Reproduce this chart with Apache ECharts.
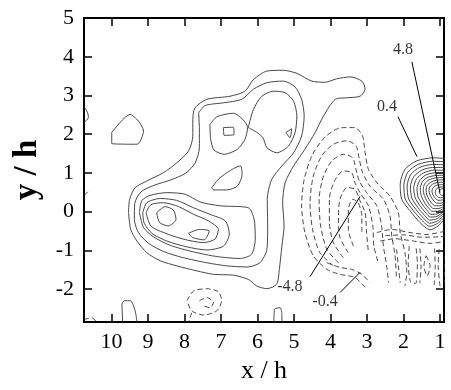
<!DOCTYPE html>
<html>
<head>
<meta charset="utf-8">
<title>contours</title>
<script src="https://cdn.jsdelivr.net/npm/echarts@6/dist/echarts.min.js"></script>
<style>
  html, body { margin: 0; padding: 0; background: #fff; }
  #chart { width: 451px; height: 390px; }
</style>
</head>
<body>
<div id="chart"></div>
<script>
// axis ticks
const xTicks = [1, 2, 3, 4, 5, 6, 7, 8, 9, 10];
const yTicks = [-2, -1, 0, 1, 2, 3, 4, 5];

// positive (solid) contours, [x/h, y/h]
const outer = [[9.53,-0.03],[9.50,0.32],[9.35,0.62],[9.03,0.79],[8.57,1.01],[8.21,1.26],[7.89,1.56],[7.77,1.95],[7.77,2.38],[7.71,2.68],[7.39,2.90],[6.75,2.98],[6.34,3.11],[6.11,3.41],[5.74,3.63],[5.29,3.65],[4.92,3.57],[4.51,3.37],[4.15,3.34],[3.83,3.43],[3.46,3.48],[3.14,3.37],[3.05,3.16],[3.19,2.98],[3.55,2.94],[3.87,2.90],[4.19,2.47],[4.42,2.04],[4.70,1.61],[5.01,1.18],[5.24,0.75],[5.31,0.23],[5.27,-0.37],[5.33,-0.89],[5.40,-1.49],[5.47,-1.87],[5.74,-1.99],[6.02,-1.92],[6.25,-1.75],[6.66,-1.64],[7.20,-1.62],[7.66,-1.53],[8.21,-1.40],[8.66,-1.27],[9.03,-1.06],[9.30,-0.76],[9.47,-0.46],[9.53,-0.03]];
const second = [[7.61,2.55],[7.43,2.74],[6.93,2.81],[6.43,2.90],[6.11,3.16],[5.74,3.33],[5.29,3.37],[4.97,3.22],[4.79,2.90],[4.72,2.47],[4.79,1.95],[5.01,1.52],[5.33,1.18],[5.61,0.83],[5.73,0.32],[5.72,-0.37],[5.74,-0.97],[5.93,-1.32],[6.29,-1.43],[6.84,-1.40],[7.39,-1.32],[8.03,-1.19],[8.57,-1.03],[8.98,-0.82],[9.26,-0.54],[9.37,-0.20],[9.36,0.21],[9.19,0.51],[8.83,0.68],[8.37,0.82],[7.97,0.99],[7.71,1.25],[7.59,1.65],[7.59,2.12],[7.61,2.55]];
const lobeRight = [[6.25,2.17],[6.11,2.64],[5.88,2.98],[5.56,3.11],[5.24,3.07],[5.01,2.85],[4.92,2.47],[4.97,2.04],[5.15,1.69],[5.47,1.52],[5.74,1.65],[5.85,1.91],[6.02,2.05],[6.25,2.17]];
const lobeLeft = [[7.30,2.25],[7.11,2.45],[6.66,2.54],[6.40,2.38],[6.27,2.17],[6.34,1.87],[6.55,1.61],[6.91,1.48],[7.19,1.59],[7.28,1.87],[7.30,2.25]];
const peakSquare = [[6.93,2.17],[6.66,2.18],[6.64,1.99],[6.91,1.97],[6.93,2.17]];
const peakTriangle = [[5.22,2.04],[5.06,2.14],[5.11,1.91],[5.22,2.04]];
const midBlob = [[7.25,0.62],[7.02,0.88],[6.47,1.18],[6.42,0.96],[6.55,0.66],[6.84,0.56],[7.20,0.56],[7.25,0.62]];
const lowC = [[9.23,-0.03],[9.17,0.28],[8.94,0.42],[8.48,0.49],[7.98,0.45],[7.57,0.25],[7.02,0.15],[6.25,0.10],[6.09,-0.20],[6.06,-0.71],[6.16,-1.10],[6.47,-1.21],[7.11,-1.16],[7.75,-1.04],[8.39,-0.87],[8.85,-0.65],[9.12,-0.41],[9.23,-0.03]];
const lowD = [[9.14,-0.03],[9.03,0.23],[8.66,0.34],[8.21,0.29],[7.75,0.10],[7.30,-0.07],[6.88,-0.24],[6.77,-0.58],[6.93,-0.89],[7.39,-0.99],[7.93,-0.91],[8.48,-0.76],[8.89,-0.56],[9.10,-0.30],[9.14,-0.03]];
const lowE = [[9.05,-0.03],[8.92,0.18],[8.57,0.23],[8.16,0.13],[7.75,-0.07],[7.34,-0.24],[7.07,-0.46],[7.16,-0.71],[7.48,-0.80],[8.03,-0.71],[8.57,-0.54],[8.92,-0.37],[9.05,-0.03]];
const lowF = [[8.76,-0.03],[8.53,0.13],[8.30,0.04],[8.23,-0.20],[8.44,-0.37],[8.68,-0.28],[8.76,-0.03]];
const lowG = [[7.89,-0.56],[7.59,-0.46],[7.32,-0.50],[7.46,-0.73],[7.77,-0.67],[7.89,-0.56]];
const farLeft = [[9.99,2.04],[9.49,2.51],[9.26,2.34],[9.12,2.08],[9.30,1.74],[9.99,1.76],[9.99,2.04]];
const edgeLeft = [[10.76,2.73],[10.65,2.55],[10.63,2.43],[10.75,2.30]];
const bumpLeft = [[9.69,-2.86],[9.71,-2.39],[9.64,-2.30],[9.48,-2.30],[9.35,-2.56],[9.30,-2.86]];
const bumpMid = [[5.55,-2.86],[5.53,-2.52],[5.38,-2.48],[5.33,-2.65],[5.33,-2.86]];

// near-wall peak (solid), nested from 0.4 up to 4.8
const p1 = [[0.84,1.37],[1.18,1.39],[1.64,1.31],[1.96,1.09],[2.09,0.71],[2.05,0.32],[1.82,0.02],[1.55,-0.28],[1.27,-0.47],[1.05,-0.37],[0.84,-0.15]];
const p2 = [[0.84,1.29],[1.2,1.3],[1.6,1.22],[1.88,1.02],[1.99,0.68],[1.95,0.32],[1.74,0.04],[1.5,-0.22],[1.28,-0.38],[1.06,-0.3],[0.84,-0.1]];
const p3 = [[0.84,1.21],[1.2,1.22],[1.56,1.14],[1.8,0.96],[1.9,0.66],[1.86,0.33],[1.67,0.07],[1.46,-0.16],[1.28,-0.3],[1.07,-0.24],[0.84,-0.05]];
const p4 = [[0.84,1.14],[1.2,1.14],[1.5,1.07],[1.72,0.9],[1.81,0.64],[1.77,0.35],[1.6,0.1],[1.42,-0.1],[1.28,-0.22],[1.08,-0.18],[0.84,0.0]];
const p5 = [[0.84,1.07],[1.18,1.07],[1.45,1.0],[1.64,0.85],[1.72,0.62],[1.68,0.36],[1.53,0.13],[1.38,-0.04],[1.27,-0.14],[1.08,-0.12],[0.84,0.04]];
const p6 = [[0.84,1.0],[1.16,1.0],[1.4,0.94],[1.56,0.8],[1.63,0.6],[1.6,0.38],[1.47,0.17],[1.34,0.02],[1.25,-0.07],[1.08,-0.06],[0.84,0.08]];
const p7 = [[0.84,0.94],[1.14,0.93],[1.35,0.88],[1.49,0.76],[1.54,0.58],[1.51,0.4],[1.41,0.21],[1.3,0.08],[1.22,0.01],[1.07,0.01],[0.84,0.12]];
const p8 = [[0.84,0.88],[1.12,0.87],[1.3,0.82],[1.42,0.72],[1.46,0.57],[1.43,0.42],[1.35,0.26],[1.26,0.14],[1.18,0.08],[1.05,0.08],[0.84,0.16]];
const p9 = [[0.84,0.82],[1.1,0.81],[1.25,0.76],[1.35,0.68],[1.38,0.56],[1.36,0.43],[1.29,0.3],[1.21,0.2],[1.14,0.15],[1.03,0.15],[0.84,0.2]];
const p10 = [[0.84,0.76],[1.08,0.75],[1.2,0.71],[1.28,0.64],[1.3,0.55],[1.28,0.45],[1.22,0.34],[1.15,0.26],[1.09,0.22],[1.0,0.22],[0.84,0.25]];
const p11 = [[0.84,0.7],[1.05,0.69],[1.14,0.66],[1.2,0.6],[1.22,0.53],[1.2,0.45],[1.15,0.37],[1.09,0.31],[1.03,0.29],[0.95,0.3],[0.84,0.32]];
const p12 = [[0.84,0.64],[1.02,0.63],[1.08,0.6],[1.12,0.55],[1.13,0.5],[1.11,0.44],[1.07,0.39],[1.02,0.36],[0.96,0.36],[0.84,0.38]];
const pCore = [[0.93,0.6],[1.0,0.56],[1.02,0.5],[0.99,0.44],[0.93,0.42],[0.89,0.47],[0.9,0.55],[0.93,0.6]];

// negative (dashed) contours
const n1 = [[3.05,-1.95],[3.33,-1.70],[3.74,-1.62],[4.10,-1.49],[4.47,-1.14],[4.70,-0.54],[4.79,0.15],[4.72,0.83],[4.49,1.48],[4.12,1.95],[3.69,2.17],[3.33,2.17],[3.12,1.95],[3.05,1.52],[2.96,1.09],[2.73,0.75],[2.37,0.40],[2.14,-0.03],[2.09,-0.54],[1.96,-1.06],[1.91,-1.57],[1.96,-1.92]];
const n2 = [[3.92,-1.40],[4.29,-1.06],[4.49,-0.46],[4.56,0.23],[4.47,0.92],[4.24,1.44],[3.92,1.74],[3.55,1.83],[3.30,1.70],[3.21,1.35],[3.12,1.01],[2.92,0.66],[2.55,0.32],[2.37,-0.11],[2.32,-0.63],[2.23,-1.14],[2.19,-1.75]];
const n3 = [[3.78,-1.32],[4.10,-0.97],[4.27,-0.37],[4.31,0.32],[4.19,0.92],[3.96,1.31],[3.65,1.48],[3.39,1.39],[3.30,1.09],[3.21,0.79],[3.01,0.49],[2.73,0.15],[2.60,-0.37],[2.55,-0.89],[2.46,-1.40],[2.41,-1.83]];
const n4 = [[3.65,-1.19],[3.92,-0.80],[4.03,-0.28],[4.03,0.32],[3.89,0.79],[3.65,1.05],[3.42,1.01],[3.33,0.75],[3.19,0.49],[2.96,0.15],[2.84,-0.37],[2.81,-0.89],[2.69,-1.32]];
const n5 = [[3.51,-1.06],[3.74,-0.67],[3.78,-0.15],[3.74,0.32],[3.55,0.62],[3.33,0.58],[3.21,0.32],[3.05,-0.03],[3.01,-0.54],[2.96,-1.06]];
const n6 = [[3.37,-0.89],[3.51,-0.46],[3.51,0.06],[3.39,0.32],[3.24,0.23],[3.14,-0.11],[3.14,-0.54]];
const nLow = [[4.10,-1.32],[3.74,-1.44],[3.42,-1.49],[3.14,-1.62],[2.92,-1.83]];
const r1 = [[2.73,-0.54],[2.32,-0.46],[1.82,-0.54],[1.36,-0.59],[0.84,-0.50]];
const r2 = [[2.64,-0.76],[2.23,-0.70],[1.73,-0.76],[1.27,-0.82],[0.84,-0.76]];
const r3 = [[1.84,-0.89],[1.87,-1.32],[1.80,-1.83],[1.66,-1.85],[1.62,-1.32],[1.66,-0.89]];
const r4 = [[1.02,-0.97],[1.05,-1.40],[1.00,-1.92]];
const r5 = [[0.86,-0.93],[0.88,-1.92]];
const r6 = [[1.38,-1.14],[1.27,-1.40],[1.35,-1.66],[1.44,-1.40],[1.38,-1.14]];
const r7 = [[2.19,-0.97],[2.14,-1.40],[2.09,-1.83]];
const r8 = [[1.55,-0.95],[1.52,-1.40],[1.55,-1.85]];
const r9 = [[1.15,-0.95],[1.13,-1.40],[1.16,-1.90]];
const r10 = [[2.50,-0.62],[2.00,-0.60],[1.50,-0.66],[1.00,-0.65],[0.84,-0.62]];
const eddyOuter = [[7.93,-2.30],[7.75,-2.05],[7.39,-1.99],[7.07,-2.07],[6.98,-2.30],[7.11,-2.56],[7.48,-2.67],[7.80,-2.56],[7.93,-2.30]];
const eddyInner = [[7.59,-2.30],[7.39,-2.22],[7.20,-2.34],[7.30,-2.48],[7.52,-2.42]];
const eddyTail = [[7.80,-2.61],[7.89,-2.86]];
const cornerLeft = [[10.75,-2.79],[10.55,-2.74],[10.39,-2.85]];
const edgeDash = [[10.74,0.42],[10.66,0.5],[10.6,0.56]];

// contour level labels and their leader lines
const labelText = ['4.8', '0.4', '-4.8', '-0.4'];
const labelPos = [[2.01, 4.18], [2.45, 2.71], [5.11, -1.93], [4.15, -2.32]];
const leaders = [
  [[1.77, 3.87], [1.0, 0.49]],
  [[2.15, 2.45], [1.63, 1.42]],
  [[4.56, -1.68], [3.19, 0.39]],
  [[3.74, -2.09], [3.19, -1.57]]
];

const solidContours = [outer, second, lobeRight, lobeLeft, peakSquare, peakTriangle, midBlob,
  lowC, lowD, lowE, lowF, lowG, farLeft, edgeLeft, bumpLeft, bumpMid,
  p1, p2, p3, p4, p5, p6, p7, p8, p9, p10, p11, p12, pCore];
const dashedContours = [n1, n2, n3, n4, n5, n6, nLow, r1, r2, r3, r4, r5, r6, r7, r8, r9, r10,
  eddyOuter, eddyInner, eddyTail, cornerLeft, edgeDash];

const serif = "'Liberation Serif', 'Times New Roman', serif";
const chart = echarts.init(document.getElementById('chart'));

const series = [];
solidContours.forEach(function (c) {
  series.push({
    type: 'line', data: c, showSymbol: false, smooth: 0.25, silent: true,
    lineStyle: { color: '#333', width: 0.9 }
  });
});
dashedContours.forEach(function (c) {
  series.push({
    type: 'line', data: c, showSymbol: false, smooth: 0.25, silent: true,
    lineStyle: { color: '#333', width: 0.9, type: [5, 3] }
  });
});
leaders.forEach(function (l) {
  series.push({
    type: 'line', data: l, showSymbol: false, silent: true,
    lineStyle: { color: '#000', width: 1 }
  });
});
series.push({
  type: 'scatter', symbolSize: 0, silent: true,
  data: labelPos.map(function (p, i) { return [p[0], p[1], labelText[i]]; }),
  label: {
    show: true, position: 'inside', color: '#000',
    fontFamily: serif, fontSize: 16,
    formatter: function (p) { return p.data[2]; }
  }
});

const tickStyle = { show: true, inside: true, length: 8, lineStyle: { color: '#000', width: 1.5 } };
const lineStyle = { show: true, onZero: false, lineStyle: { color: '#000', width: 2 } };

chart.setOption({
  animation: false,
  grid: { left: 84, right: 7, top: 18, bottom: 68 },
  xAxis: [{
    type: 'value', inverse: true, min: 0.89, max: 10.75, position: 'bottom',
    name: 'x / h', nameLocation: 'middle', nameGap: 36,
    nameTextStyle: { fontFamily: serif, fontSize: 26, color: '#000' },
    axisLine: lineStyle,
    axisTick: Object.assign({ customValues: xTicks }, tickStyle),
    axisLabel: { customValues: xTicks, margin: 9, fontFamily: serif, fontSize: 22, color: '#000' },
    splitLine: { show: false }
  }, {
    type: 'value', inverse: true, min: 0.89, max: 10.75, position: 'top',
    axisLine: lineStyle,
    axisTick: Object.assign({ customValues: xTicks }, tickStyle),
    axisLabel: { show: false },
    splitLine: { show: false }
  }],
  yAxis: [{
    type: 'value', min: -2.85, max: 5, position: 'left',
    name: 'y / h', nameLocation: 'middle', nameGap: 40,
    nameTextStyle: { fontFamily: serif, fontSize: 33, fontWeight: 'bold', color: '#000' },
    axisLine: lineStyle,
    axisTick: Object.assign({ customValues: yTicks }, tickStyle),
    axisLabel: { customValues: yTicks, margin: 10, fontFamily: serif, fontSize: 22, color: '#000' },
    splitLine: { show: false }
  }, {
    type: 'value', min: -2.85, max: 5, position: 'right',
    axisLine: lineStyle,
    axisTick: Object.assign({ customValues: yTicks }, tickStyle),
    axisLabel: { show: false },
    splitLine: { show: false }
  }],
  series: series
});
</script>
</body>
</html>
